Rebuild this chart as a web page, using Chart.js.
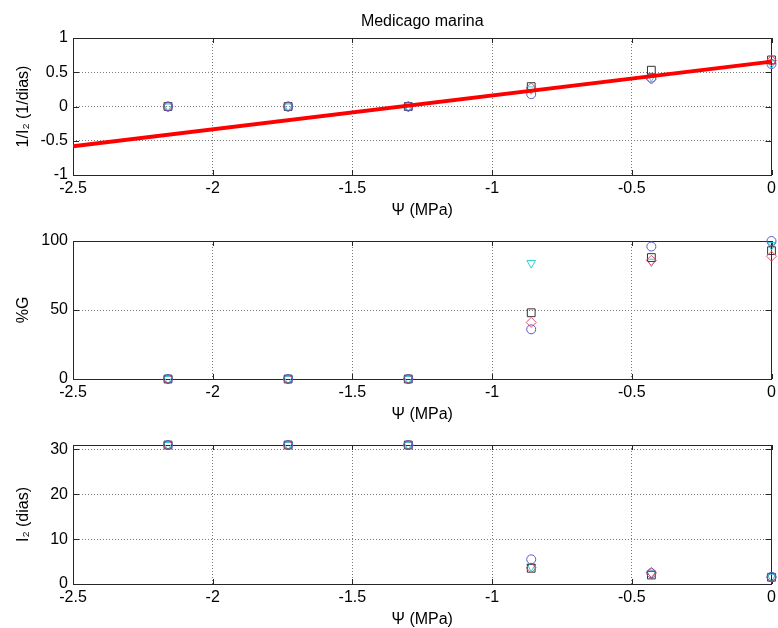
<!DOCTYPE html>
<html>
<head>
<meta charset="utf-8">
<script src="https://cdn.jsdelivr.net/npm/chart.js@4/dist/chart.umd.min.js"></script>
<style>
  html, body { margin: 0; padding: 0; background: #fff; overflow: hidden; }
  body { width: 778px; height: 628px; position: relative; }
  canvas { position: absolute; left: 0; }
</style>
</head>
<body>
<canvas id="invChart" width="778" height="220" style="top:0px"></canvas>
<canvas id="germChart" width="778" height="204" style="top:220px"></canvas>
<canvas id="diasChart" width="778" height="205" style="top:424px"></canvas>
<script>
// potencial hidrico (MPa)
const psi = [-2.16, -1.73, -1.30, -0.86, -0.43, 0];
const xTicks = [-2.5, -2, -1.5, -1, -0.5, 0];

// 1/I2 (1/dias) - cada replica
const invCirc = [0, 0, 0, 0.18, 0.42, 0.62];
const invDiam = [0, 0, 0, 0.27, 0.40, 0.67];
const invSq   = [0, 0, 0, 0.29, 0.53, 0.68];
const invTri  = [0, 0, 0, 0.25, 0.44, 0.63];
// recta de regresion
const fitX = [-2.5, 0];
const fitY = [-0.58, 0.655];
const invTicks = [-1, -0.5, 0, 0.5, 1];

// %G
const gCirc = [0, 0, 0, 36, 96, 100];
const gDiam = [0, 0, 0, 41, 86, 89];
const gSq   = [0, 0, 0, 48, 88, 93];
const gTri  = [0, 0, 0, 84, 85, 97];
const gTicks = [0, 50, 100];

// I2 (dias)
const dCirc = [31, 31, 31, 5.5, 2.4, 1.6];
const dDiam = [31, 31, 31, 3.6, 2.6, 1.5];
const dSq   = [31, 31, 31, 3.5, 2.0, 1.5];
const dTri  = [31, 31, 31, 3.9, 2.3, 1.6];
const dTicks = [0, 10, 20, 30];

const circColor = '#5a5acc';
const diamColor = '#e0506e';
const sqColor = '#333333';
const triColor = '#2ccfcf';

Chart.defaults.font.family = '"Liberation Sans", Arial, Helvetica, sans-serif';
Chart.defaults.font.size = 16;
Chart.defaults.color = '#000';

const pts = (ys) => ys.map((y, i) => ({ x: psi[i], y: y }));

function markerSets(c, d, s, t) {
    const base = { showLine: false, borderWidth: 1, backgroundColor: 'rgba(0,0,0,0)', clip: false };
    return [
        Object.assign({}, base, { data: pts(c), pointStyle: 'circle', pointRadius: 4.5, borderColor: circColor }),
        Object.assign({}, base, { data: pts(d), pointStyle: 'rectRot', pointRadius: 5, borderColor: diamColor }),
        Object.assign({}, base, { data: pts(s), pointStyle: 'rect', pointRadius: 5.5, borderColor: sqColor }),
        Object.assign({}, base, { data: pts(t), pointStyle: 'triangle', rotation: 180, pointRadius: 5, borderColor: triColor })
    ];
}

// caja y marcas de tick hacia dentro (estilo MATLAB)
const boxPlugin = {
    id: 'box',
    beforeDatasetsDraw(chart) {
        const { ctx, chartArea: a, scales } = chart;
        ctx.save();
        ctx.strokeStyle = '#262626';
        ctx.lineWidth = 1;
        ctx.beginPath();
        scales.x.ticks.forEach(t => {
            const px = Math.round(scales.x.getPixelForValue(t.value)) + 0.5;
            ctx.moveTo(px, a.bottom); ctx.lineTo(px, a.bottom - 5);
            ctx.moveTo(px, a.top); ctx.lineTo(px, a.top + 5);
        });
        scales.y.ticks.forEach(t => {
            const py = Math.round(scales.y.getPixelForValue(t.value)) + 0.5;
            ctx.moveTo(a.left, py); ctx.lineTo(a.left + 6, py);
            ctx.moveTo(a.right, py); ctx.lineTo(a.right - 6, py);
        });
        ctx.stroke();
        ctx.strokeRect(Math.round(a.left) + 0.5, Math.round(a.top) + 0.5,
            Math.round(a.right - a.left) - 1, Math.round(a.bottom - a.top));
        ctx.restore();
    }
};

function makeChart(id, datasets, yMin, yMax, yTicks, yTitle, padTop, title) {
    const fmt = v => String(v);
    return new Chart(document.getElementById(id).getContext('2d'), {
        type: 'scatter',
        data: { datasets: datasets },
        options: {
            responsive: false,
            animation: false,
            events: [],
            layout: { padding: { top: padTop, right: 1, left: 0, bottom: 0 } },
            plugins: {
                legend: { display: false },
                tooltip: { enabled: false },
                title: title ? {
                    display: true, text: title, color: '#000', fullSize: false,
                    font: { size: 16, weight: 'normal' },
                    padding: { top: 12, bottom: 6.8 }
                } : { display: false }
            },
            scales: {
                x: {
                    type: 'linear', min: -2.5, max: 0,
                    afterBuildTicks: s => { s.ticks = xTicks.map(v => ({ value: v })); },
                    afterFit: s => { s.height = 45; s.paddingLeft = 0; s.paddingRight = 0; },
                    ticks: { callback: fmt, padding: 4, maxRotation: 0, autoSkip: false },
                    grid: { color: '#7a7a7a', lineWidth: 1, drawTicks: false },
                    border: { display: false, dash: [1, 2] },
                    title: { display: true, text: 'Ψ (MPa)', padding: { top: 0, bottom: 0 } }
                },
                y: {
                    type: 'linear', min: yMin, max: yMax,
                    afterBuildTicks: s => { s.ticks = yTicks.map(v => ({ value: v })); },
                    afterFit: s => { s.width = 73; s.paddingTop = 0; s.paddingBottom = 0; },
                    ticks: { callback: fmt, padding: 5, autoSkip: false },
                    grid: { color: '#7a7a7a', lineWidth: 1, drawTicks: false },
                    border: { display: false, dash: [1, 2] },
                    title: { display: true, text: yTitle, padding: { top: 14, bottom: 0 } }
                }
            }
        },
        plugins: [boxPlugin]
    });
}

// 1. Grafico 1/I2 con la recta ajustada (encima de los marcadores)
const fitLine = {
    type: 'line', showLine: true, data: fitX.map((x, i) => ({ x: x, y: fitY[i] })),
    borderColor: '#ff0000', borderWidth: 4, pointRadius: 0, fill: false, clip: 0
};
makeChart('invChart', [fitLine].concat(markerSets(invCirc, invDiam, invSq, invTri)),
    -1, 1, invTicks, '1/I₂ (1/dias)', 0, 'Medicago marina');

// 2. Grafico %G
makeChart('germChart', markerSets(gCirc, gDiam, gSq, gTri), 0, 100, gTicks, '%G', 21, null);

// 3. Grafico I2 (dias)
makeChart('diasChart', markerSets(dCirc, dDiam, dSq, dTri), 0, 31, dTicks, 'I₂ (dias)', 21, null);
</script>
</body>
</html>
